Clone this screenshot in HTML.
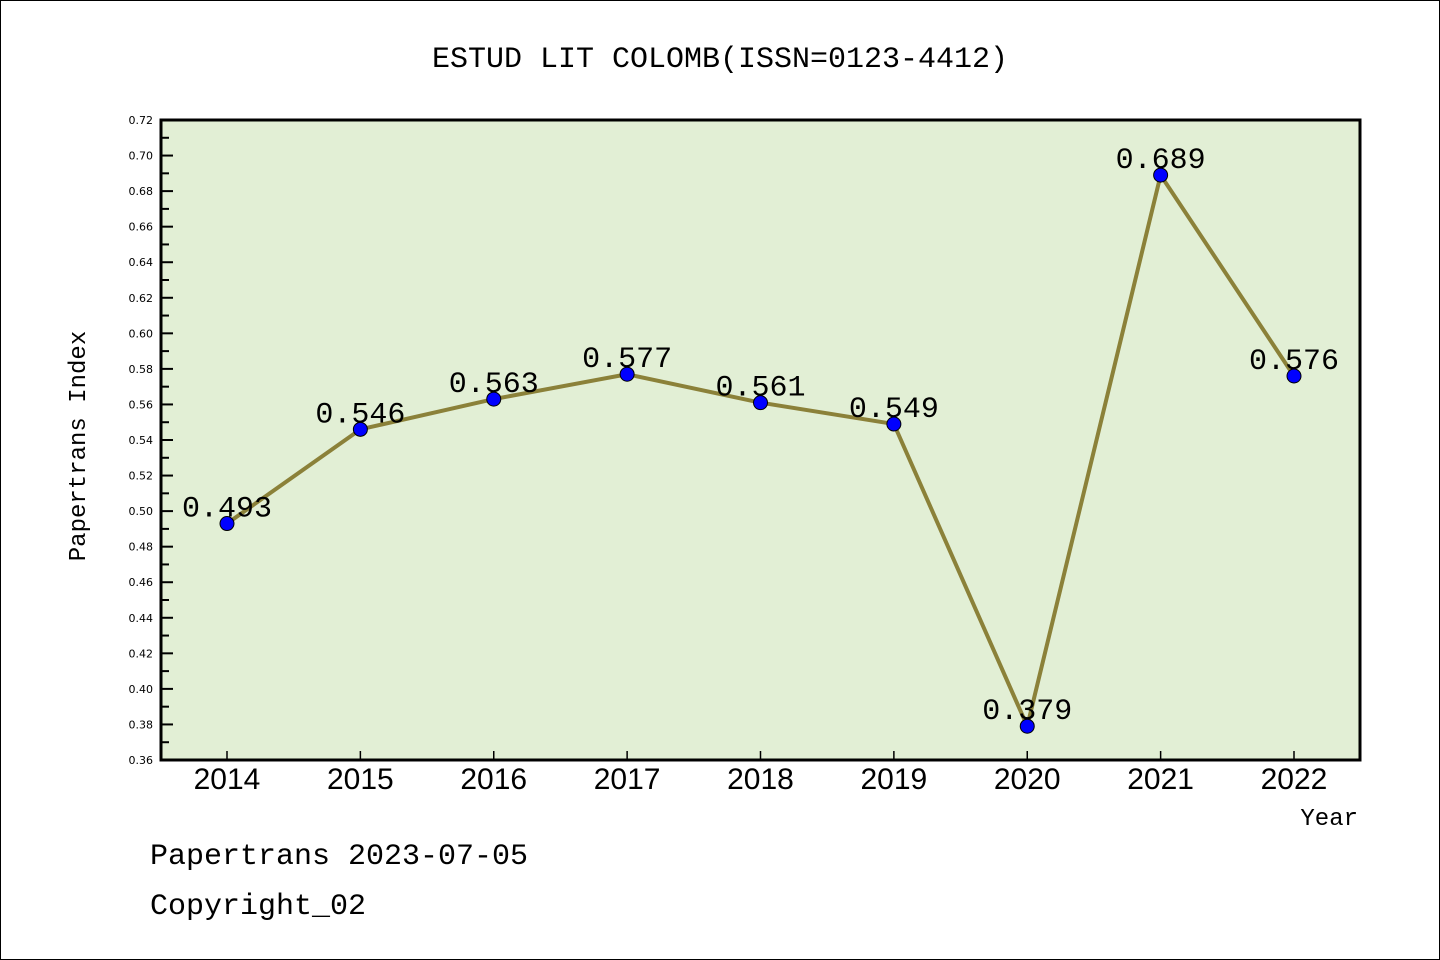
<!DOCTYPE html>
<html><head><meta charset="utf-8"><style>
html,body{margin:0;padding:0;background:#fff}
svg{display:block}
text{font-family:"Liberation Mono","DejaVu Sans Mono",monospace}
</style></head><body>
<svg id="chart" width="1440" height="960" xmlns="http://www.w3.org/2000/svg">
<rect x="0.5" y="0.5" width="1439" height="959" fill="#fff" stroke="#000"/>
<text x="720" y="67" font-size="30" text-anchor="middle">ESTUD LIT COLOMB(ISSN=0123-4412)</text>
<rect x="161" y="120" width="1199" height="640" fill="#e2efd5"/>
<g id="yaxis"></g><g id="xaxis"></g><g id="series"></g>
<rect x="161" y="120" width="1199" height="640" fill="none" stroke="#000" stroke-width="3"/>
<text x="85" y="446" font-size="24" text-anchor="middle" transform="rotate(-90 85 446)">Papertrans Index</text>
<text x="1358" y="825" font-size="24" text-anchor="end">Year</text>
<text x="150" y="864" font-size="30">Papertrans 2023-07-05</text>
<text x="150" y="914" font-size="30">Copyright_02</text>
</svg>
<script>
const years = [2014,2015,2016,2017,2018,2019,2020,2021,2022];
const values = [0.493,0.546,0.563,0.577,0.561,0.549,0.379,0.689,0.576];
const valueLabels = ["0.493","0.546","0.563","0.577","0.561","0.549","0.379","0.689","0.576"];
const yTicks = [0.36,0.38,0.40,0.42,0.44,0.46,0.48,0.50,0.52,0.54,0.56,0.58,0.60,0.62,0.64,0.66,0.68,0.70,0.72];
const yMin = 0.36, yMax = 0.72;
const NS = "http://www.w3.org/2000/svg";
function yS(v){return 760 - (v - yMin) / (yMax - yMin) * 640;}
function xS(yr){return 227 + (yr - years[0]) * 133.375;}
function mk(tag, attrs, parent, txt){
  const e = document.createElementNS(NS, tag);
  for (const k in attrs) e.setAttribute(k, attrs[k]);
  if (txt !== undefined) e.textContent = txt;
  parent.appendChild(e); return e;
}
const ya = document.getElementById('yaxis');
yTicks.forEach((t, i) => {
  const y = yS(t);
  const tk = mk('line', {x1:161, x2:173, y1:y, y2:y, stroke:'#000', 'stroke-width':2}, ya);
  
  
  const lb = mk('text', {x:153, y:y+4, 'font-size':11, 'text-anchor':'end', style:'font-family:"DejaVu Sans",sans-serif'}, ya, t.toFixed(2));
  
  
  if (i < yTicks.length - 1) {
    const ym = yS(t + 0.01);
    const mt = mk('line', {x1:161, x2:169, y1:ym, y2:ym, stroke:'#000', 'stroke-width':2}, ya);
    
    
  }
});
const xa = document.getElementById('xaxis');
years.forEach(yr => {
  const x = xS(yr);
  const tk = mk('line', {x1:x, x2:x, y1:760, y2:751, stroke:'#000', 'stroke-width':1.5}, xa);
  
  
  const lb = mk('text', {x:x, y:789, 'font-size':30, 'text-anchor':'middle', style:'font-family:"Liberation Sans",sans-serif'}, xa, String(yr));
  
  
});
const sg = document.getElementById('series');
const pts = years.map((yr, i) => xS(yr) + ',' + yS(values[i])).join(' ');
const ln = mk('polyline', {points:pts, fill:'none', stroke:'#8b8139', 'stroke-width':4, 'stroke-linejoin':'round'}, sg);


years.forEach((yr, i) => {
  const x = xS(yr), y = yS(values[i]);
  const c = mk('circle', {cx:x, cy:y, r:7, fill:'#0000ff', stroke:'#000', 'stroke-width':1}, sg);
  
  
  const t = mk('text', {x:x, y:y-7, 'font-size':30, 'text-anchor':'middle'}, sg, valueLabels[i]);
  
  
});
</script>
</body></html>
